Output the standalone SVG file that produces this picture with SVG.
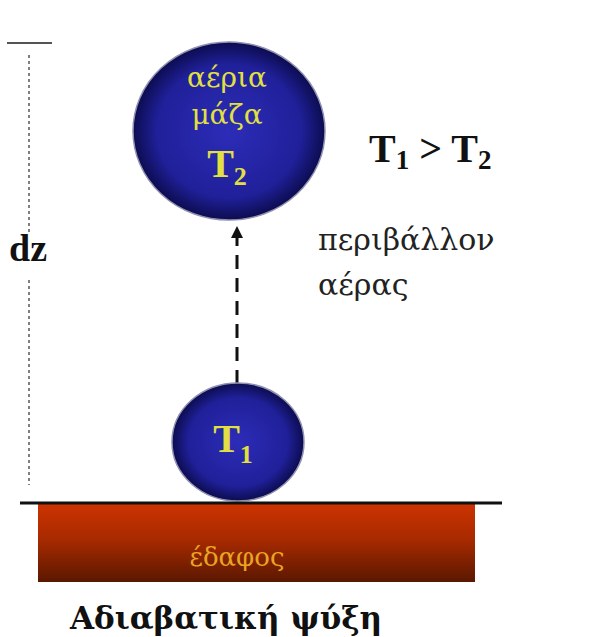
<svg xmlns="http://www.w3.org/2000/svg" width="591" height="637" viewBox="0 0 591 637">
<defs>
<radialGradient id="ball" cx="50%" cy="50%" r="50%">
<stop offset="0" stop-color="#2c2cb8"/>
<stop offset="0.75" stop-color="#20209a"/>
<stop offset="1" stop-color="#0c0c50"/>
</radialGradient>
<linearGradient id="soil" x1="0" y1="0" x2="0" y2="1">
<stop offset="0" stop-color="#cc3300"/>
<stop offset="0.45" stop-color="#a82a00"/>
<stop offset="1" stop-color="#5a1800"/>
</linearGradient>
<marker id="ah" viewBox="0 0 10 10" refX="5" refY="5" markerWidth="4" markerHeight="4" orient="auto">
<path d="M0,0 L10,5 L0,10 z" fill="#111"/>
</marker>
<style>
.serif{font-family:"Liberation Serif","DejaVu Serif",serif;}
.gr{font-family:"DejaVu Serif","Liberation Serif",serif;}
.b{font-weight:bold;}
.yel{fill:#e2e040;}
.blk{fill:#111;}
</style>
</defs>
<rect width="591" height="637" fill="#fff"/>
<g id="ground">
<rect x="38" y="504" width="437" height="78" fill="url(#soil)"/>
<text class="gr" x="237" y="566" font-size="26" fill="#e8a424" text-anchor="middle">έδαφος</text>
</g>
<g id="connectors">
<line x1="237" y1="384" x2="237" y2="232" stroke="#111" stroke-width="3" stroke-dasharray="14,9" marker-end="url(#ah)"/>
<line x1="7" y1="43" x2="52" y2="43" stroke="#555" stroke-width="2"/>
<line x1="29" y1="55" x2="29" y2="235" stroke="#555" stroke-width="1.5" stroke-dasharray="3,3"/>
<line x1="29" y1="280" x2="29" y2="485" stroke="#555" stroke-width="1.5" stroke-dasharray="3,3"/>
</g>
<g id="parcel-top">
<ellipse cx="229" cy="131" rx="96" ry="89" fill="url(#ball)" stroke="#9090b0" stroke-width="1.5"/>
<text class="gr yel" x="227" y="87" font-size="28" text-anchor="middle">αέρια</text>
<text class="gr yel" x="227" y="124" font-size="28" text-anchor="middle">μάζα</text>
<text class="serif yel b" x="227" y="177" font-size="40" text-anchor="middle">T<tspan font-size="26" dy="8">2</tspan></text>
</g>
<g id="parcel-bottom">
<ellipse cx="238" cy="442" rx="66" ry="59" fill="url(#ball)" stroke="#9090b0" stroke-width="1.5"/>
<text class="serif yel b" x="233" y="452" font-size="40" text-anchor="middle">T<tspan font-size="26" dy="11">1</tspan></text>
</g>
<line x1="20" y1="503" x2="502" y2="503" stroke="#111" stroke-width="3"/>
<g id="labels">
<text class="serif b blk" x="9" y="261" font-size="38">dz</text>
<text class="serif b blk" x="369" y="162" font-size="40">T<tspan font-size="27" dy="7">1</tspan><tspan dy="-7"> &gt; T</tspan><tspan font-size="27" dy="7">2</tspan></text>
<text class="gr" x="318" y="250" font-size="30" fill="#222">περιβάλλον</text>
<text class="gr" x="318" y="295" font-size="30" fill="#222">αέρας</text>
<text class="gr b blk" x="70" y="629" font-size="31">Αδιαβατική ψύξη</text>
</g>
</svg>
